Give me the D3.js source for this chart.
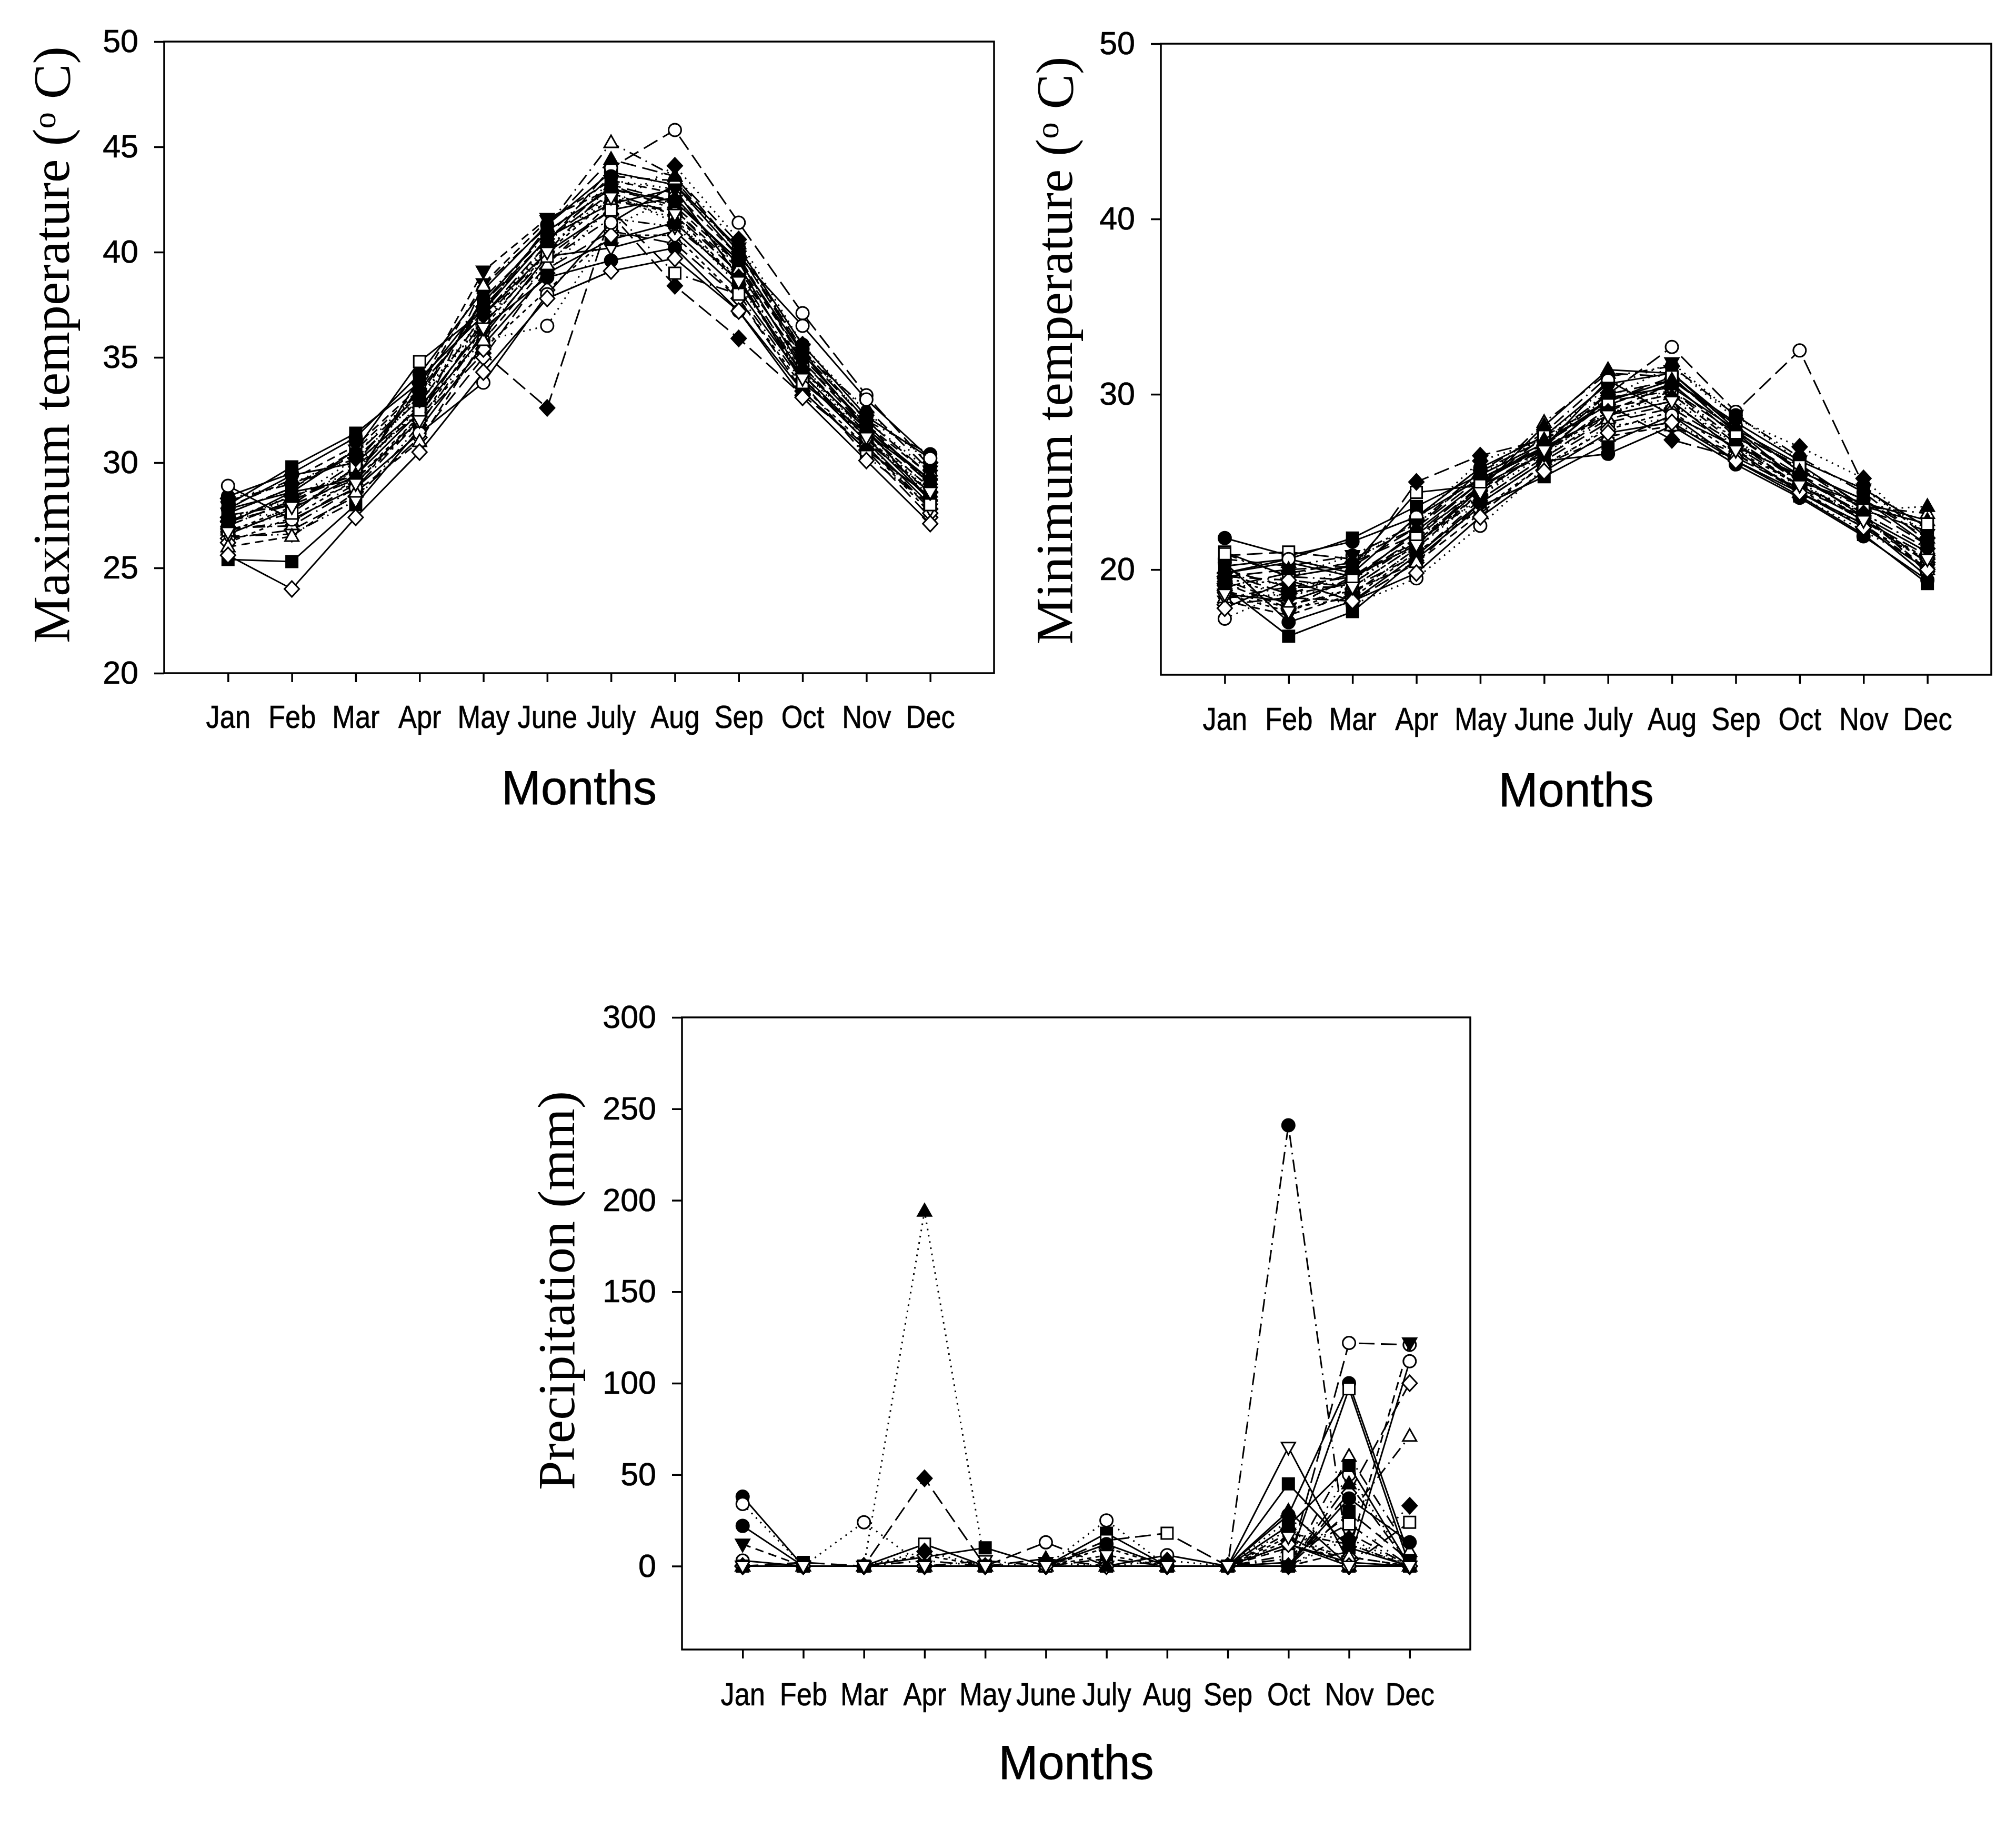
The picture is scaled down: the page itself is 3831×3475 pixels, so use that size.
<!DOCTYPE html>
<html>
<head>
<meta charset="utf-8">
<script src="https://cdn.jsdelivr.net/npm/d3@7/dist/d3.min.js"></script>
<style>
  body { margin: 0; background: #fff; }
</style>
</head>
<body>
<div id="chart"></div>
<script>
// month labels on the x axis
const months = ['Jan', 'Feb', 'Mar', 'Apr', 'May', 'June', 'July', 'Aug', 'Sep', 'Oct', 'Nov', 'Dec'];

// one row per series (year), Jan..Dec
const tmax = [
  [28.4, 29.5, 31.2, 34.2, 38.2, 41.3, 43.8, 43.2, 40.2, 35.6, 32.2, 30.2],
  [27.0, 28.2, 29.5, 32.8, 37.0, 40.4, 44.0, 45.8, 41.4, 37.1, 33.2, 29.8],
  [27.6, 28.8, 30.6, 33.5, 38.5, 41.5, 43.4, 42.8, 39.8, 34.8, 31.8, 29.0],
  [26.8, 27.2, 29.0, 32.2, 36.8, 40.0, 43.2, 42.0, 39.0, 34.2, 31.0, 28.6],
  [28.0, 29.8, 31.4, 33.8, 37.6, 41.0, 43.0, 42.4, 39.6, 35.2, 31.6, 28.2],
  [27.8, 28.6, 30.6, 34.8, 37.2, 40.7, 42.3, 43.0, 38.8, 33.8, 31.4, 29.2],
  [27.2, 28.0, 29.2, 32.0, 35.2, 32.6, 41.8, 38.4, 35.9, 33.2, 30.8, 27.8],
  [26.4, 26.8, 28.4, 31.2, 35.0, 39.2, 41.0, 40.4, 37.8, 33.4, 30.6, 27.4],
  [27.4, 27.6, 29.8, 33.2, 36.6, 40.2, 42.6, 41.6, 38.4, 34.4, 31.2, 28.4],
  [26.6, 27.8, 29.4, 32.4, 36.0, 39.8, 40.2, 41.0, 38.2, 34.0, 31.0, 28.0],
  [28.2, 29.0, 30.2, 33.0, 37.8, 40.8, 43.6, 43.4, 40.0, 35.4, 32.0, 30.4],
  [27.3, 28.4, 29.6, 32.6, 35.8, 36.5, 41.2, 42.6, 39.2, 34.6, 31.4, 28.8],
  [27.9, 29.2, 30.8, 33.6, 39.1, 41.6, 43.0, 42.2, 39.4, 35.0, 31.8, 29.4],
  [26.9, 27.0, 28.8, 32.0, 38.4, 41.2, 45.2, 43.6, 40.4, 35.2, 32.6, 29.6],
  [25.4, 25.3, 28.0, 31.6, 35.6, 39.0, 40.6, 41.4, 38.6, 34.2, 31.2, 28.2],
  [27.5, 28.0, 30.0, 33.4, 37.4, 40.6, 42.8, 41.8, 39.0, 34.8, 31.6, 29.0],
  [28.3, 29.0, 30.4, 33.4, 37.4, 39.0, 42.2, 44.1, 40.6, 35.6, 32.4, 30.0],
  [26.2, 27.4, 29.2, 32.2, 35.4, 38.2, 40.8, 40.8, 37.8, 33.6, 30.8, 27.6],
  [27.1, 28.6, 29.2, 34.0, 37.0, 40.0, 42.0, 42.6, 39.4, 34.4, 31.6, 29.2],
  [26.5, 26.6, 28.2, 31.8, 36.2, 39.6, 41.6, 41.2, 38.8, 34.0, 31.0, 27.8],
  [27.8, 29.4, 30.0, 32.6, 36.4, 38.8, 39.6, 40.2, 37.2, 33.4, 30.6, 28.4],
  [28.9, 27.3, 28.8, 31.4, 33.8, 38.0, 41.4, 43.2, 39.8, 36.5, 33.0, 30.2],
  [27.0, 28.2, 29.6, 32.8, 36.8, 40.4, 43.4, 43.0, 40.2, 35.4, 32.0, 29.6],
  [26.0, 26.5, 28.6, 31.0, 35.8, 39.4, 42.4, 42.0, 39.2, 34.6, 31.4, 28.8],
  [27.6, 28.8, 30.4, 33.2, 37.6, 40.6, 43.2, 42.4, 39.6, 35.0, 31.8, 29.0],
  [26.8, 27.6, 29.8, 32.4, 36.6, 39.8, 42.0, 39.0, 38.0, 33.8, 30.3, 28.0],
  [27.4, 28.2, 30.2, 33.0, 37.0, 40.2, 42.8, 41.4, 38.8, 34.4, 31.4, 28.6],
  [25.6, 24.0, 27.4, 30.5, 34.3, 37.8, 39.1, 39.7, 37.2, 33.1, 30.1, 27.1],
  [27.2, 28.4, 29.4, 33.6, 37.2, 41.2, 44.4, 43.6, 40.0, 35.2, 32.0, 29.4],
  [26.7, 27.9, 29.0, 32.0, 36.4, 40.0, 42.6, 41.8, 38.6, 34.0, 31.2, 28.6]
];

const tmin = [
  [21.8, 20.8, 21.6, 23.0, 25.8, 27.6, 30.6, 31.2, 28.2, 25.6, 24.0, 21.4],
  [19.0, 19.8, 20.4, 22.0, 24.6, 27.0, 30.0, 32.7, 29.0, 32.5, 24.8, 21.8],
  [18.2, 17.4, 18.6, 21.2, 24.4, 26.8, 29.0, 30.6, 27.6, 25.2, 23.2, 19.8],
  [19.6, 19.4, 19.0, 21.4, 24.8, 28.4, 31.2, 31.0, 27.8, 25.0, 23.6, 23.2],
  [20.2, 20.6, 21.8, 23.6, 25.4, 27.2, 29.6, 30.8, 28.4, 26.2, 24.6, 22.4],
  [21.0, 19.6, 20.2, 24.4, 24.8, 26.6, 29.8, 30.4, 28.0, 26.0, 23.6, 22.6],
  [19.8, 18.6, 19.8, 25.0, 26.5, 27.4, 29.4, 27.4, 26.4, 24.6, 23.0, 20.4],
  [18.0, 18.4, 18.2, 20.4, 23.8, 26.2, 28.4, 29.2, 27.0, 24.8, 22.8, 20.8],
  [19.4, 19.2, 19.2, 21.8, 24.2, 27.0, 30.2, 30.0, 27.4, 24.6, 23.4, 23.6],
  [18.6, 18.2, 19.4, 22.2, 25.0, 27.0, 28.8, 29.6, 26.8, 24.4, 22.6, 19.6],
  [20.6, 20.2, 20.8, 22.6, 25.6, 27.8, 31.0, 31.6, 28.8, 26.4, 24.4, 21.6],
  [17.2, 18.8, 18.0, 19.5, 22.5, 25.8, 28.2, 28.6, 26.2, 24.2, 22.2, 20.2],
  [19.2, 17.8, 19.6, 21.6, 24.6, 26.6, 29.2, 30.0, 27.2, 24.8, 23.0, 20.0],
  [18.4, 19.0, 19.0, 20.8, 24.0, 26.4, 28.6, 29.4, 27.2, 25.2, 23.2, 21.2],
  [19.0, 16.2, 17.6, 20.6, 23.6, 25.3, 27.2, 28.8, 26.2, 24.2, 22.0, 19.2],
  [20.8, 21.0, 20.6, 22.4, 25.2, 26.8, 29.6, 30.2, 27.8, 25.8, 23.4, 22.2],
  [19.6, 18.4, 20.4, 22.8, 26.2, 27.4, 29.8, 31.6, 28.6, 27.0, 25.2, 21.8],
  [18.8, 17.8, 18.4, 21.0, 23.4, 26.0, 28.0, 29.0, 26.6, 24.6, 22.4, 20.6],
  [19.8, 20.4, 19.6, 21.4, 24.6, 28.2, 31.4, 31.2, 28.0, 25.0, 23.8, 22.8],
  [18.4, 18.6, 19.2, 21.6, 24.0, 26.4, 28.8, 30.2, 27.4, 25.0, 22.8, 20.4],
  [20.4, 17.0, 18.2, 20.8, 23.8, 26.2, 26.6, 28.2, 26.0, 24.1, 21.9, 19.4],
  [19.8, 20.6, 19.8, 23.0, 25.2, 27.0, 30.8, 28.8, 27.0, 25.4, 23.0, 21.0],
  [18.8, 19.6, 20.8, 22.6, 25.4, 27.6, 30.4, 31.8, 28.8, 26.2, 24.6, 22.0],
  [19.4, 18.0, 18.8, 20.4, 23.2, 26.0, 27.6, 28.2, 26.6, 24.4, 22.6, 20.0],
  [20.0, 19.0, 19.6, 22.0, 25.0, 27.2, 29.4, 30.6, 27.6, 25.4, 23.6, 21.4],
  [20.9, 19.6, 19.4, 21.8, 24.8, 27.6, 29.6, 31.0, 27.8, 25.9, 23.6, 22.6],
  [19.2, 18.8, 18.6, 21.2, 24.2, 26.6, 29.0, 29.8, 27.0, 24.8, 23.2, 21.2],
  [17.8, 19.4, 18.2, 19.8, 23.0, 25.6, 27.8, 28.4, 26.2, 24.4, 22.4, 20.0],
  [19.6, 20.0, 20.2, 22.4, 25.6, 27.4, 30.0, 30.8, 28.2, 25.6, 24.0, 21.8],
  [18.6, 17.6, 19.0, 21.4, 24.4, 26.8, 28.8, 29.6, 26.8, 24.8, 22.8, 20.6]
];

const precip = [
  [38, 0, 0, 0, 0, 0, 0, 0, 0, 28, 100, 5],
  [0, 0, 0, 0, 0, 13, 0, 0, 0, 0, 122, 121],
  [12, 0, 0, 0, 0, 0, 0, 0, 0, 0, 8, 122],
  [0, 0, 0, 0, 0, 0, 0, 0, 0, 4, 28, 71],
  [0, 0, 0, 5, 10, 0, 0, 0, 0, 45, 10, 0],
  [0, 0, 0, 12, 0, 0, 0, 0, 0, 2, 97, 0],
  [0, 0, 0, 48, 0, 0, 0, 0, 0, 0, 0, 0],
  [0, 0, 0, 0, 0, 0, 0, 0, 0, 0, 40, 100],
  [0, 0, 0, 194, 0, 0, 0, 0, 0, 0, 0, 0],
  [0, 0, 0, 0, 0, 0, 0, 0, 0, 65, 2, 0],
  [0, 0, 0, 0, 0, 0, 0, 0, 0, 241, 0, 0],
  [34, 0, 24, 0, 0, 0, 25, 0, 0, 0, 50, 0],
  [0, 0, 0, 0, 0, 0, 0, 0, 0, 18, 12, 0],
  [0, 0, 0, 3, 0, 0, 0, 0, 0, 0, 60, 8],
  [0, 0, 0, 0, 0, 0, 18, 0, 0, 22, 55, 0],
  [0, 0, 0, 0, 0, 0, 14, 18, 0, 0, 0, 24],
  [0, 0, 0, 0, 0, 0, 0, 0, 0, 20, 0, 33],
  [0, 0, 0, 6, 0, 0, 10, 0, 0, 14, 5, 0],
  [0, 0, 0, 0, 0, 0, 0, 0, 0, 30, 0, 0],
  [0, 0, 0, 0, 3, 0, 0, 0, 0, 0, 18, 0],
  [22, 0, 0, 0, 0, 0, 12, 0, 0, 0, 37, 13],
  [3, 0, 0, 0, 0, 0, 0, 6, 0, 12, 2, 112],
  [0, 0, 0, 0, 0, 2, 0, 0, 0, 25, 12, 0],
  [0, 0, 0, 0, 0, 0, 0, 0, 0, 10, 5, 0],
  [0, 2, 0, 0, 0, 0, 4, 0, 0, 0, 30, 3],
  [0, 0, 0, 0, 0, 0, 0, 0, 0, 6, 23, 0],
  [0, 0, 0, 8, 0, 0, 0, 3, 0, 0, 15, 0],
  [0, 0, 0, 0, 0, 0, 0, 0, 0, 12, 0, 0],
  [0, 0, 0, 0, 0, 4, 0, 0, 0, 0, 45, 0],
  [0, 0, 0, 0, 0, 0, 6, 0, 0, 16, 0, 0]
];

const tmaxTicks = [20, 25, 30, 35, 40, 45, 50];
const tminTicks = [20, 30, 40, 50];
const precipTicks = [0, 50, 100, 150, 200, 250, 300];

// series styling (SigmaPlot-like incrementing symbols and line types)
const symbolCycle = ['circle', 'circleOpen', 'triDown', 'triUpOpen', 'square', 'squareOpen',
                     'diamond', 'diamondOpen', 'triUp', 'triDownOpen'];
const seriesDash = [0, 1, 4, 3, 0, 0, 1, 1, 2, 0, 3, 2, 4, 3, 0, 1, 2, 5, 0, 6, 0, 0, 2, 4, 1, 3, 2, 0, 1, 5];
const dashPatterns = [null, '30,12', '3,9', '24,10,3,10', '16,10', '8,8', '22,8,3,8,3,8'];

const W = 3831, H = 3475;
const sans = '"Liberation Sans", Arial, sans-serif';
const serif = '"Liberation Serif", "Times New Roman", serif';

const svg = d3.select('#chart').append('svg')
    .attr('width', W)
    .attr('height', H)
    .attr('viewBox', [0, 0, W, H])
    .style('background', '#fff');

function markerPath(kind) {
    const base = kind.replace('Open', '');
    switch (base) {
        case 'circle': return 'M12,0A12,12 0 1,1 -12,0A12,12 0 1,1 12,0Z';
        case 'square': return 'M-11,-11H11V11H-11Z';
        case 'diamond': return 'M0,-15L14,0L0,15L-14,0Z';
        case 'triUp': return 'M0,-14L13,9L-13,9Z';
        case 'triDown': return 'M0,14L13,-9L-13,-9Z';
    }
}

function drawPanel(cfg) {
    const x = d3.scaleLinear().domain([0, 13]).range([cfg.left, cfg.right]);
    const y = d3.scaleLinear().domain(cfg.domain).range([cfg.bottom, cfg.top]);

    const g = svg.append('g');

    // series: line first, then its symbols
    const line = d3.line()
        .x((d, i) => x(i + 1))
        .y(d => y(d));

    cfg.data.forEach((row, s) => {
        const kind = symbolCycle[s % symbolCycle.length];
        const open = kind.endsWith('Open');
        g.append('path')
            .attr('d', line(row))
            .attr('fill', 'none')
            .attr('stroke', '#000')
            .attr('stroke-width', 3)
            .attr('stroke-dasharray', dashPatterns[seriesDash[s]]);
        g.append('g')
            .selectAll('path')
            .data(row)
            .join('path')
            .attr('transform', (d, i) => `translate(${x(i + 1)},${y(d)})`)
            .attr('d', markerPath(kind))
            .attr('fill', open ? '#fff' : '#000')
            .attr('stroke', '#000')
            .attr('stroke-width', 3);
    });

    // frame
    g.append('rect')
        .attr('x', cfg.left)
        .attr('y', cfg.top)
        .attr('width', cfg.right - cfg.left)
        .attr('height', cfg.bottom - cfg.top)
        .attr('fill', 'none')
        .attr('stroke', '#000')
        .attr('stroke-width', 3.5);

    // axes
    const xAxis = g.append('g')
        .attr('transform', `translate(0,${cfg.bottom})`)
        .call(d3.axisBottom(x)
            .tickValues(d3.range(1, 13))
            .tickFormat(d => months[d - 1])
            .tickSize(17)
            .tickSizeOuter(0)
            .tickPadding(0));
    xAxis.select('.domain').remove();

    const yAxis = g.append('g')
        .attr('transform', `translate(${cfg.left},0)`)
        .call(d3.axisLeft(y)
            .tickValues(cfg.ticks)
            .tickSize(19)
            .tickSizeOuter(0)
            .tickPadding(30));
    yAxis.select('.domain').remove();

    g.selectAll('.tick line').attr('stroke', '#000').attr('stroke-width', 3.5);
    g.selectAll('.tick text')
        .attr('fill', '#000')
        .attr('stroke', '#000')
        .attr('stroke-width', 0.7)
        .style('font-family', sans)
        .style('font-size', '61px');

    // month labels are set condensed, as in the original
    xAxis.selectAll('.tick text')
        .attr('y', cfg.labelY - cfg.bottom)
        .attr('dy', null)
        .attr('transform', 'scale(0.86,1)');

    // x title
    g.append('text')
        .attr('x', (cfg.left + cfg.right) / 2)
        .attr('y', cfg.monthsY)
        .attr('text-anchor', 'middle')
        .attr('dy', '0.36em')
        .attr('stroke', '#000')
        .attr('stroke-width', 0.8)
        .style('font-family', sans)
        .style('font-size', '90px')
        .text('Months');

    // y title
    const t = g.append('text')
        .attr('transform', `translate(${cfg.titleX},${cfg.titleY}) rotate(-90)`)
        .attr('text-anchor', 'middle')
        .attr('dy', '0.33em')
        .style('font-family', serif)
        .style('font-size', '100px');
    if (cfg.degree) {
        t.append('tspan').text(cfg.title + ' (');
        t.append('tspan').attr('dy', '-0.42em').style('font-size', '62px').text('o');
        t.append('tspan').attr('dy', '0.27em').text(' C)');
    } else {
        t.text(cfg.title);
    }
}

drawPanel({
    data: tmax, domain: [20, 50], ticks: tmaxTicks,
    left: 312, right: 1889, top: 79, bottom: 1279,
    title: 'Maximum temperature', degree: true, titleX: 98, titleY: 655,
    labelY: 1383, monthsY: 1496
});

drawPanel({
    data: tmin, domain: [14, 50], ticks: tminTicks,
    left: 2206, right: 3784, top: 83, bottom: 1282,
    title: 'Minimum temperature', degree: true, titleX: 2004, titleY: 666,
    labelY: 1387, monthsY: 1500
});

drawPanel({
    data: precip, domain: [-45.6, 300], ticks: precipTicks,
    left: 1296, right: 2794, top: 1933, bottom: 3134,
    title: 'Precipitation (mm)', degree: false, titleX: 1058, titleY: 2452,
    labelY: 3240, monthsY: 3348
});
</script>
</body>
</html>
